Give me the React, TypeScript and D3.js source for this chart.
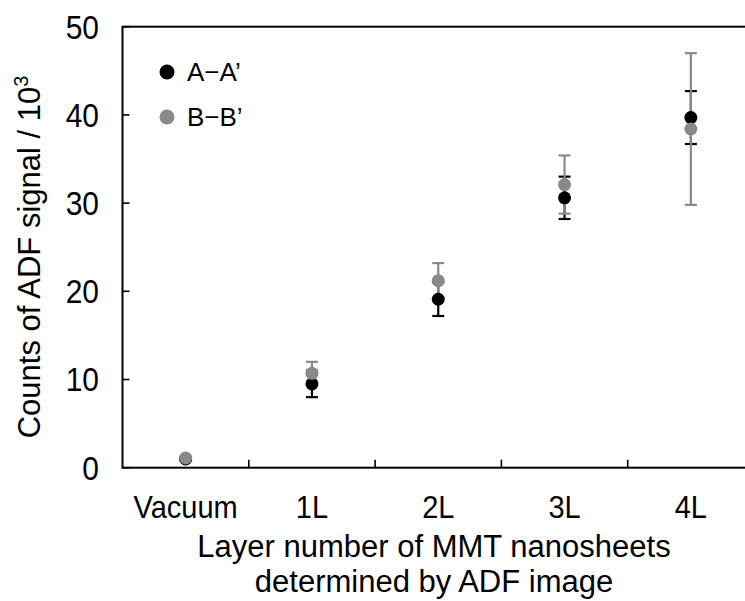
import React from "react";
import * as d3 from "d3";

const categories = ["Vacuum", "1L", "2L", "3L", "4L"];
const seriesNames = ["A\u2212A\u2019", "B\u2212B\u2019"];
const seriesA = [1.0, 9.5, 19.1, 30.6, 39.7];
const errorA = [0.2, 1.5, 1.9, 2.4, 3.0];
const seriesB = [1.1, 10.7, 21.2, 32.1, 38.4];
const errorB = [0.2, 1.3, 2.0, 3.3, 8.6];
const yTicks = [0, 10, 20, 30, 40, 50];
const colors = ["#000000", "#898989"];

const W = 745;
const H = 601;
const plotLeft = 122.5;
const plotTop = 26.7;
const plotBottom = 467.7;
const catWidth = 126.3;
const FONT = "Liberation Sans, Arial, sans-serif";

export default function App() {
  const x = d3
    .scaleBand<string>()
    .domain(categories)
    .range([plotLeft, plotLeft + catWidth * categories.length])
    .padding(0);
  const y = d3.scaleLinear().domain([0, 50]).range([plotBottom, plotTop]);
  const plotRight = plotLeft + catWidth * categories.length;

  const series = [
    { name: seriesNames[0], values: seriesA, errs: errorA, color: colors[0] },
    { name: seriesNames[1], values: seriesB, errs: errorB, color: colors[1] },
  ];
  const cx = (c: string) => (x(c) as number) + x.bandwidth() / 2;
  const cap = 6;

  return (
    <svg
      width={W}
      height={H}
      style={{ position: "absolute", left: 0, top: 0, background: "#fff" }}
      fontFamily={FONT}
    >
      <rect x={0} y={0} width={W} height={H} fill="#fff" />
      {/* y ticks (inward) */}
      {yTicks.map((t) => (
        <g key={"yt" + t}>
          <line x1={plotLeft} x2={plotLeft + 7} y1={y(t)} y2={y(t)} stroke="#000" strokeWidth={1.6} />
          <text
            transform={`translate(99, ${y(t)}) scale(1, 1.1)`}
            dy="0.36em"
            textAnchor="end"
            fontSize={30}
            fill="#000"
          >
            {t}
          </text>
        </g>
      ))}
      {/* x ticks (category boundaries, inward) */}
      {categories.slice(1).map((c) => (
        <line
          key={"xt" + c}
          x1={x(c) as number}
          x2={x(c) as number}
          y1={plotBottom}
          y2={plotBottom - 8}
          stroke="#000"
          strokeWidth={1.6}
        />
      ))}
      {/* frame */}
      <rect
        x={plotLeft}
        y={plotTop}
        width={plotRight - plotLeft}
        height={plotBottom - plotTop}
        fill="none"
        stroke="#000"
        strokeWidth={2}
      />
      {/* category labels */}
      {categories.map((c) => (
        <text
          key={"xl" + c}
          transform={`translate(${cx(c)}, 518) scale(1, 1.1)`}
          textAnchor="middle"
          fontSize={29}
          fill="#000"
        >
          {c}
        </text>
      ))}
      {/* error bars */}
      {series.map((s) =>
        categories.map((c, i) => {
          const px = cx(c);
          const hi = y(s.values[i] + s.errs[i]);
          const lo = y(s.values[i] - s.errs[i]);
          return (
            <g key={"eb" + s.name + c} stroke={s.color} strokeWidth={2.2}>
              <line x1={px} x2={px} y1={hi} y2={lo} />
              <line x1={px - cap} x2={px + cap} y1={hi} y2={hi} />
              <line x1={px - cap} x2={px + cap} y1={lo} y2={lo} />
            </g>
          );
        })
      )}
      {/* points */}
      {series.map((s) =>
        categories.map((c, i) => (
          <circle key={"pt" + s.name + c} cx={cx(c)} cy={y(s.values[i])} r={6.5} fill={s.color} />
        ))
      )}
      {/* legend */}
      {series.map((s, i) => (
        <g key={"lg" + s.name}>
          <circle cx={167} cy={72 + i * 45} r={7.5} fill={s.color} />
          <text x={187} y={72 + i * 45} dy="0.36em" fontSize={26} fill="#000">
            {s.name}
          </text>
        </g>
      ))}
      {/* axis titles */}
      <text
        transform={`translate(40, 257) rotate(-90)`}
        textAnchor="middle"
        fontSize={31}
        fill="#000"
      >
        Counts of ADF signal / 10
        <tspan dy={-12} fontSize={20}>
          3
        </tspan>
      </text>
      <text x={434} y={557} textAnchor="middle" fontSize={31} fill="#000">
        Layer number of MMT nanosheets
      </text>
      <text x={434} y={592} textAnchor="middle" fontSize={31} fill="#000">
        determined by ADF image
      </text>
    </svg>
  );
}
